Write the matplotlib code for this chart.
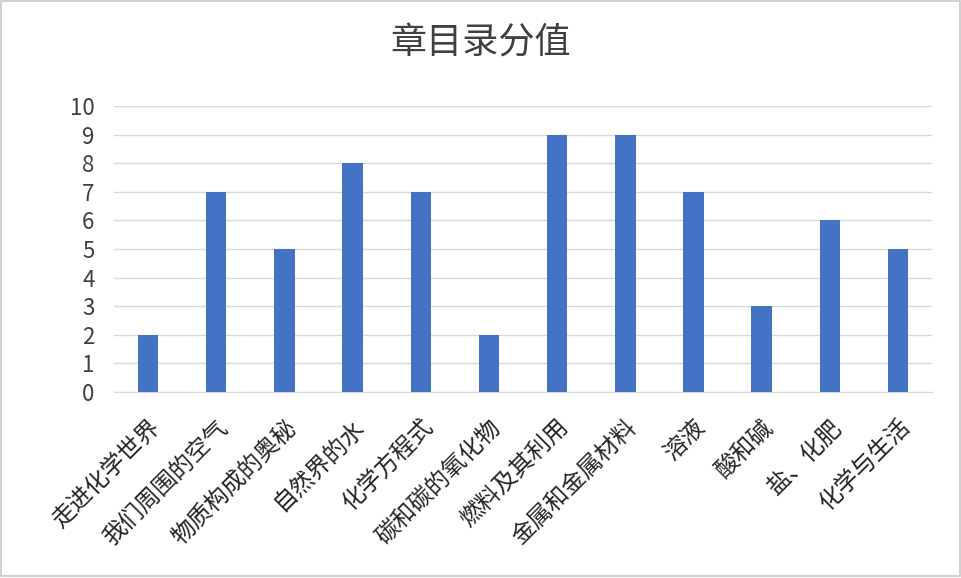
import matplotlib
matplotlib.use('Agg')
import matplotlib.pyplot as plt
import numpy as np

plt.rcParams['font.family'] = ['Noto Sans CJK SC', 'DejaVu Sans']

chapters = ['走进化学世界', '我们周围的空气', '物质构成的奥秘', '自然界的水', '化学方程式',
            '碳和碳的氧化物', '燃料及其利用', '金属和金属材料', '溶液', '酸和碱',
            '盐、化肥', '化学与生活']
scores = [2, 7, 5, 8, 7, 2, 9, 9, 7, 3, 6, 5]

fig = plt.figure(figsize=(9.62, 5.78), dpi=100)
ax = fig.add_axes([0.1185, 0.322, 0.8505, 0.4945])

x = np.arange(len(chapters))
ax.bar(x, scores, width=0.3, color='#4472C4', zorder=3)

ax.set_xlim(-0.5, len(chapters) - 0.5)
ax.set_ylim(0, 10)
ax.set_yticks(range(0, 11))
ax.yaxis.grid(True, color='#d9d9d9', linewidth=1.0, zorder=0)
for s in ['top', 'right', 'left']:
    ax.spines[s].set_visible(False)
ax.spines['bottom'].set_color('#d9d9d9')
ax.tick_params(axis='both', length=0, colors='#404040')
ax.tick_params(axis='y', labelsize=16, pad=14)

ax.set_xticks(x)
ax.set_xticklabels(chapters, rotation=45, ha='right', rotation_mode='anchor',
                   fontsize=17, color='#262626')
ax.tick_params(axis='x', pad=17)

fig.text(0.5, 0.925, '章目录分值', ha='center', va='center', fontsize=26, color='#404040')

# light frame around the chart
fig.patches.append(plt.Rectangle((0.001, 0.003), 0.997, 0.995, transform=fig.transFigure,
                                 fill=False, edgecolor='#c8c8c8', linewidth=1.2))

fig.savefig('out.png', dpi=100, facecolor='white')
